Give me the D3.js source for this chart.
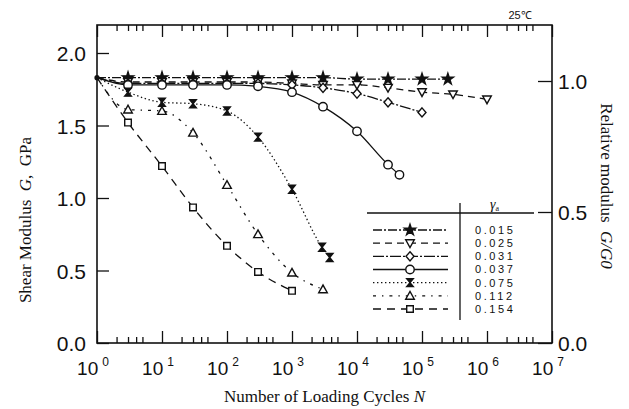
<!DOCTYPE html>
<html>
<head>
<meta charset="utf-8">
<script src="https://cdn.jsdelivr.net/npm/d3@7"></script>
<style>
	body { margin: 0; background: #fff; }
	svg { display: block; }
	.tick text { font-family: "Liberation Sans", Arial, sans-serif; fill: #111; }
	.axis line { stroke: #111; stroke-width: 1.3; }
</style>
</head>
<body>
<div id="chart"></div>
<script>
// strain amplitudes, one per curve
var strains = ["0.015", "0.025", "0.031", "0.037", "0.075", "0.112", "0.154"];

// number of loading cycles and shear modulus (GPa)
var nStar = [1, 3, 10, 30, 100, 300, 1000, 3000, 1e4, 3e4, 1e5, 2.5e5];
var gStar = [1.83, 1.83, 1.83, 1.83, 1.83, 1.83, 1.83, 1.83, 1.82, 1.82, 1.82, 1.82];

var nTriDown = [1, 3, 10, 30, 100, 300, 1000, 3000, 1e4, 3e4, 1e5, 3e5, 1e6];
var gTriDown = [1.83, 1.80, 1.80, 1.80, 1.80, 1.80, 1.79, 1.78, 1.78, 1.76, 1.73, 1.715, 1.68];

var nDiamond = [1, 3, 10, 30, 100, 300, 1000, 3000, 1e4, 3e4, 1e5];
var gDiamond = [1.83, 1.79, 1.79, 1.79, 1.79, 1.79, 1.78, 1.76, 1.72, 1.66, 1.59];

var nCircle = [1, 3, 10, 30, 100, 300, 1000, 3000, 1e4, 3e4, 4.5e4];
var gCircle = [1.83, 1.78, 1.78, 1.78, 1.78, 1.77, 1.73, 1.63, 1.46, 1.23, 1.16];

var nBowtie = [1, 3, 10, 30, 100, 300, 1000, 2900, 3800];
var gBowtie = [1.83, 1.73, 1.66, 1.65, 1.60, 1.42, 1.06, 0.66, 0.59];

var nTriUp = [1, 3, 10, 30, 100, 300, 1000, 3000];
var gTriUp = [1.83, 1.61, 1.60, 1.45, 1.09, 0.75, 0.485, 0.37];

var nSquare = [1, 3, 10, 30, 100, 300, 1000];
var gSquare = [1.83, 1.52, 1.22, 0.935, 0.67, 0.49, 0.36];

var decades = [1, 10, 100, 1e3, 1e4, 1e5, 1e6, 1e7];
var gTicks = [0, 0.5, 1.0, 1.5, 2.0];
var ratioTicks = [0, 0.5, 1.0];

var W = 629, H = 409;
var mLeft = 97, mRight = 552, mTop = 25, mBottom = 343;

var svg = d3.select("#chart").append("svg")
		.attr("width", W)
		.attr("height", H);

var x = d3.scaleLog()
		.domain([1, 1e7])
		.range([mLeft, mRight]);
var y = d3.scaleLinear()
		.domain([0, 2])
		.range([mBottom, 53]);
var yr = d3.scaleLinear()
		.domain([0, 1])
		.range([mBottom, 81]);

var minors = [];
decades.slice(0, -1).forEach(d => [2, 3, 4, 5].forEach(m => minors.push(d * m)));

// frame
svg.append("rect")
		.attr("x", mLeft)
		.attr("y", mTop)
		.attr("width", mRight - mLeft)
		.attr("height", mBottom - mTop)
		.attr("fill", "none")
		.attr("stroke", "#111")
		.attr("stroke-width", 1.6);

// bottom and top ticks, pointing inwards
function logTicks(axisFn, ypos) {
	svg.append("g")
			.attr("class", "axis")
			.attr("transform", `translate(0, ${ypos})`)
			.call(axisFn(x).tickValues(decades).tickSize(-12).tickFormat(""))
			.call(g => g.select(".domain").remove());
	svg.append("g")
			.attr("class", "axis")
			.attr("transform", `translate(0, ${ypos})`)
			.call(axisFn(x).tickValues(minors).tickSize(-6).tickFormat(""))
			.call(g => g.select(".domain").remove());
}
logTicks(d3.axisBottom, mBottom);
logTicks(d3.axisTop, mTop);

// decade labels
var xlab = svg.append("g")
		.attr("font-family", "Liberation Sans, Arial, sans-serif")
		.attr("fill", "#111")
		.selectAll("text")
		.data(decades)
		.join("text")
			.attr("x", d => x(d) - 4)
			.attr("y", 375)
			.attr("text-anchor", "middle")
			.attr("font-size", 19)
			.text("10");
xlab.append("tspan")
		.attr("dx", 4)
		.attr("dy", -9)
		.attr("font-size", 12)
		.text(d => Math.round(Math.log10(d)));

// left axis
svg.append("g")
		.attr("class", "axis")
		.attr("transform", `translate(${mLeft}, 0)`)
		.call(d3.axisLeft(y).tickValues(gTicks).tickSize(-12).tickPadding(11)
			.tickFormat(d3.format(".1f")))
		.call(g => g.select(".domain").remove())
		.call(g => g.selectAll("text").attr("font-size", 21).attr("dy", "0.36em"));

// right axis
svg.append("g")
		.attr("class", "axis")
		.attr("transform", `translate(${mRight}, 0)`)
		.call(d3.axisRight(yr).tickValues(ratioTicks).tickSize(-14).tickPadding(6)
			.tickFormat(d3.format(".1f")))
		.call(g => g.select(".domain").remove())
		.call(g => g.selectAll("text").attr("font-size", 21).attr("dy", "0.36em"));

// axis titles
var serif = "Liberation Serif, Times New Roman, serif";
var xt = svg.append("text")
		.attr("x", (mLeft + mRight) / 2)
		.attr("y", 402)
		.attr("text-anchor", "middle")
		.attr("font-family", serif)
		.attr("font-size", 17)
		.attr("fill", "#111")
		.text("Number of Loading Cycles ");
xt.append("tspan").attr("font-style", "italic").text("N");

var yt = svg.append("text")
		.attr("transform", "translate(31, 220) rotate(-90)")
		.attr("text-anchor", "middle")
		.attr("font-family", serif)
		.attr("font-size", 17)
		.attr("fill", "#111")
		.attr("xml:space", "preserve")
		.text("Shear Modulus  ");
yt.append("tspan").attr("font-style", "italic").text("G");
yt.append("tspan").text(",  GPa");

var rt = svg.append("text")
		.attr("transform", "translate(601, 186) rotate(90)")
		.attr("text-anchor", "middle")
		.attr("font-family", serif)
		.attr("font-size", 17)
		.attr("fill", "#111")
		.attr("xml:space", "preserve")
		.text("Relative modulus  ");
rt.append("tspan").attr("font-style", "italic").text("G/G0");

svg.append("text")
		.attr("x", 520)
		.attr("y", 19)
		.attr("text-anchor", "middle")
		.attr("font-family", "Liberation Sans, Arial, sans-serif")
		.attr("font-size", 11)
		.attr("fill", "#111")
		.text("25\u2103");

// markers
var star = d3.symbol().type(d3.symbolStar).size(38)();
var triDown = "M-4.3,-3.4L4.3,-3.4L0,4.3Z";
var triUp = "M-4.3,3.4L4.3,3.4L0,-4.3Z";
var diamond = "M0,-4.6L4,0L0,4.6L-4,0Z";
var square = "M-3.3,-3.3H3.3V3.3H-3.3Z";
var bowtie = "M-3.3,-4H3.3L0,0L3.3,4H-3.3L0,0Z";
var circle = d3.symbol().type(d3.symbolCircle).size(56)();

var series = [
	{n: nStar, g: gStar, shape: star, fill: "#111", dash: "9,2,2,2"},
	{n: nTriDown, g: gTriDown, shape: triDown, fill: "#fff", dash: "7,5"},
	{n: nDiamond, g: gDiamond, shape: diamond, fill: "#fff", dash: "11,2,2,2"},
	{n: nCircle, g: gCircle, shape: circle, fill: "#fff", dash: null},
	{n: nBowtie, g: gBowtie, shape: bowtie, fill: "#111", dash: "1.4,2.6"},
	{n: nTriUp, g: gTriUp, shape: triUp, fill: "#fff", dash: "3,6,1.4,6"},
	{n: nSquare, g: gSquare, shape: square, fill: "#fff", dash: "8,6"}
];

var line = d3.line()
		.x(d => x(d[0]))
		.y(d => y(d[1]))
		.curve(d3.curveMonotoneX);

var curves = svg.append("g");
series.forEach(s => {
	var pts = d3.zip(s.n, s.g);
	curves.append("path")
			.attr("d", line(pts))
			.attr("fill", "none")
			.attr("stroke", "#111")
			.attr("stroke-width", 1.3)
			.attr("stroke-dasharray", s.dash);
	curves.selectAll(null)
			.data(pts.slice(1))
			.join("path")
				.attr("transform", d => `translate(${x(d[0])}, ${y(d[1])})`)
				.attr("d", s.shape)
				.attr("fill", s.fill)
				.attr("stroke", "#111")
				.attr("stroke-width", 1.4);
});

// common starting point
svg.append("circle")
		.attr("cx", x(1))
		.attr("cy", y(1.83))
		.attr("r", 2.6)
		.attr("fill", "#111");

// legend
var legend = svg.append("g")
		.attr("stroke", "#111");
legend.append("line")
		.attr("x1", 367).attr("x2", 534)
		.attr("y1", 213).attr("y2", 213)
		.attr("stroke-width", 1.3);
legend.append("line")
		.attr("x1", 460).attr("x2", 460)
		.attr("y1", 203).attr("y2", 320)
		.attr("stroke-width", 1.3);

var gam = svg.append("text")
		.attr("x", 490)
		.attr("y", 209)
		.attr("font-family", serif)
		.attr("font-style", "italic")
		.attr("font-size", 14)
		.attr("fill", "#111")
		.text("\u03b3");
gam.append("tspan")
		.attr("font-size", 8)
		.attr("font-style", "normal")
		.attr("dy", 2)
		.text("a");

var rowY = d3.scalePoint()
		.domain(strains)
		.range([230, 309]);

series.forEach((s, i) => {
	var ry = rowY(strains[i]);
	legend.append("line")
			.attr("x1", 373).attr("x2", 448)
			.attr("y1", ry).attr("y2", ry)
			.attr("stroke-width", 1.3)
			.attr("stroke-dasharray", s.dash);
	legend.append("path")
			.attr("transform", `translate(410, ${ry})`)
			.attr("d", s.shape)
			.attr("fill", s.fill)
			.attr("stroke-width", 1.4);
	svg.append("text")
			.attr("x", 475)
			.attr("y", ry)
			.attr("dy", "0.35em")
			.attr("font-family", "Liberation Sans, Arial, sans-serif")
			.attr("font-size", 11)
			.attr("letter-spacing", 2.6)
			.attr("fill", "#111")
			.text(strains[i]);
});
</script>
</body>
</html>
